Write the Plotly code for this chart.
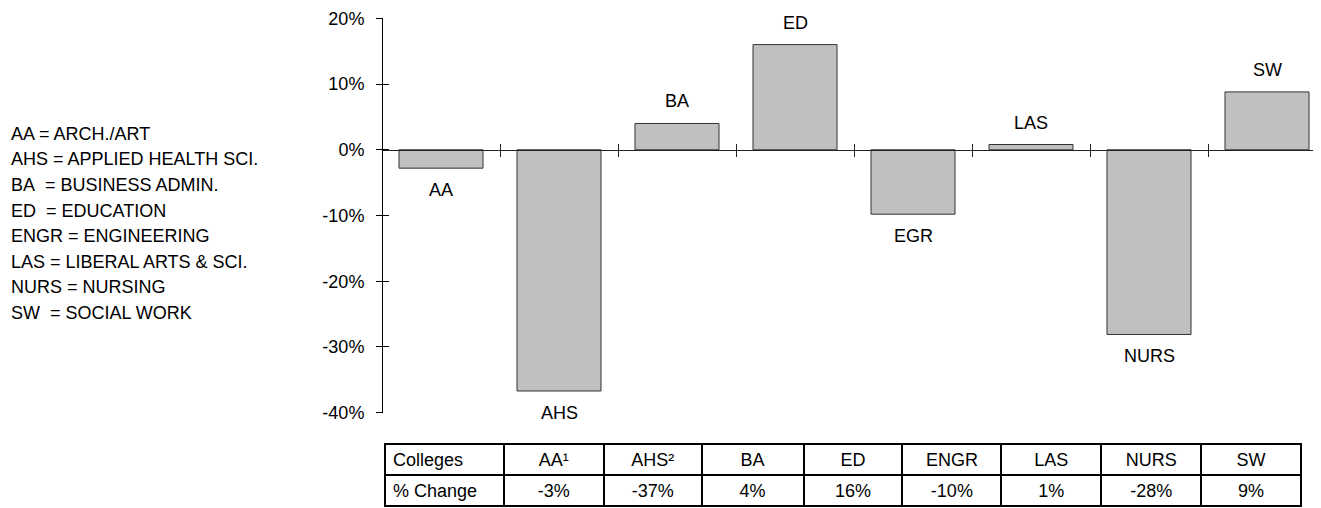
import plotly.graph_objects as go

# ---- data ----
bar_labels = ["AA", "AHS", "BA", "ED", "EGR", "LAS", "NURS", "SW"]
values = [-2.8, -36.7, 4.0, 16.0, -9.8, 0.8, -28.1, 8.8]
table_cols = ["Colleges", "AA\u00b9", "AHS\u00b2", "BA", "ED", "ENGR", "LAS", "NURS", "SW"]
table_vals = ["% Change", "-3%", "-37%", "4%", "16%", "-10%", "1%", "-28%", "9%"]
legend_abbr = ["AA", "AHS", "BA\u00a0", "ED\u00a0", "ENGR", "LAS", "NURS", "SW\u00a0"]
legend_names = ["ARCH./ART", "APPLIED HEALTH SCI.", "BUSINESS ADMIN.", "EDUCATION",
                "ENGINEERING", "LIBERAL ARTS & SCI.", "NURSING", "SOCIAL WORK"]
y_ticks = [-40, -30, -20, -10, 0, 10, 20]
y_ticktext = [f"{v}%" for v in y_ticks]

# page geometry (the page body adds an 8px margin around the figure)
W, H = 1321, 508
OFF = 8
FW, FH = W - OFF, H - OFF


def px_x(px):
    return (px - OFF) / FW


def px_y(py):
    return 1 - (py - OFF) / FH


FONT = "Arial, Liberation Sans, sans-serif"
FS = 18

x_pos = list(range(len(values)))
cat_w = 118.0
x_left_px = 382
x_range = [-0.5, -0.5 + (W - x_left_px) / cat_w]
y_range = [-40, 20]
yd = [px_y(412.7), px_y(18.3)]
zero_pos = yd[0] + (0 - y_range[0]) / (y_range[1] - y_range[0]) * (yd[1] - yd[0])
boundaries = [i + 0.5 for i in range(len(values))]
xd = [px_x(x_left_px), 1]

fig = go.Figure()
fig.add_trace(go.Bar(
    x=x_pos, y=values, width=0.712,
    marker=dict(color="#c0c0c0", line=dict(color="#333333", width=1)),
    hoverinfo="skip", showlegend=False, xaxis="x", yaxis="y",
))
# invisible trace for the overlay axes (used for the inner half of the tick marks)
fig.add_trace(go.Scatter(x=[0], y=[0], mode="markers", marker=dict(opacity=0),
                         showlegend=False, hoverinfo="skip", xaxis="x2", yaxis="y2"))

axis_common = dict(showgrid=False, zeroline=False, automargin=False)
fig.update_layout(
    width=FW, height=FH,
    margin=dict(l=0, r=0, t=0, b=0, autoexpand=False),
    paper_bgcolor="white", plot_bgcolor="rgba(0,0,0,0)",
    font=dict(family=FONT, size=FS, color="black"),
    showlegend=False,
    xaxis=dict(domain=xd, range=x_range, anchor="free", position=zero_pos,
               showline=True, linecolor="#222222", linewidth=1,
               tickmode="array", tickvals=boundaries, ticks="outside", ticklen=6,
               tickcolor="#222222", tickwidth=1, showticklabels=False, **axis_common),
    xaxis2=dict(domain=xd, range=x_range, anchor="free", position=zero_pos,
                overlaying="x", showline=False,
                tickmode="array", tickvals=boundaries, ticks="inside", ticklen=6,
                tickcolor="#222222", tickwidth=1, showticklabels=False, **axis_common),
    yaxis=dict(domain=yd, range=y_range, anchor="free", position=xd[0],
               showline=True, linecolor="black", linewidth=1,
               tickmode="array", tickvals=y_ticks, ticktext=y_ticktext,
               ticks="outside", ticklen=6, tickcolor="black", ticklabelstandoff=8,
               tickfont=dict(size=FS), **axis_common),
    yaxis2=dict(domain=yd, range=y_range, anchor="free", position=xd[0],
                overlaying="y", showline=False,
                tickmode="array", tickvals=y_ticks, ticks="inside", ticklen=6,
                tickcolor="black", showticklabels=False, **axis_common),
)

# bar labels
for xi, v, lab in zip(x_pos, values, bar_labels):
    fig.add_annotation(x=xi, y=v, xref="x", yref="y", text=lab, showarrow=False,
                       yshift=22 if v >= 0 else -22, yanchor="middle",
                       font=dict(size=FS, family=FONT, color="black"))

# abbreviation key
for i, (a, n) in enumerate(zip(legend_abbr, legend_names)):
    fig.add_annotation(x=px_x(9), y=px_y(134 + i * 25.5), xref="paper", yref="paper",
                       text=f"{a} = {n}", showarrow=False, xanchor="left", yanchor="middle",
                       font=dict(size=FS, family=FONT, color="black"))

# table
col_widths = [119, 100, 98, 102, 99, 99, 100, 100, 100]
aligns = ["left"] + ["center"] * (len(table_cols) - 1)
fig.add_trace(go.Table(
    domain=dict(x=[px_x(385), px_x(1302)], y=[0, px_y(444)]),
    columnwidth=col_widths,
    header=dict(values=table_cols, align=aligns, height=31,
                line=dict(color="black", width=2), fill=dict(color="white"),
                font=dict(size=FS, family=FONT, color="black")),
    cells=dict(values=[[v] for v in table_vals], align=aligns, height=31,
               line=dict(color="black", width=2), fill=dict(color="white"),
               font=dict(size=FS, family=FONT, color="black")),
))

fig.write_html("out.html")
